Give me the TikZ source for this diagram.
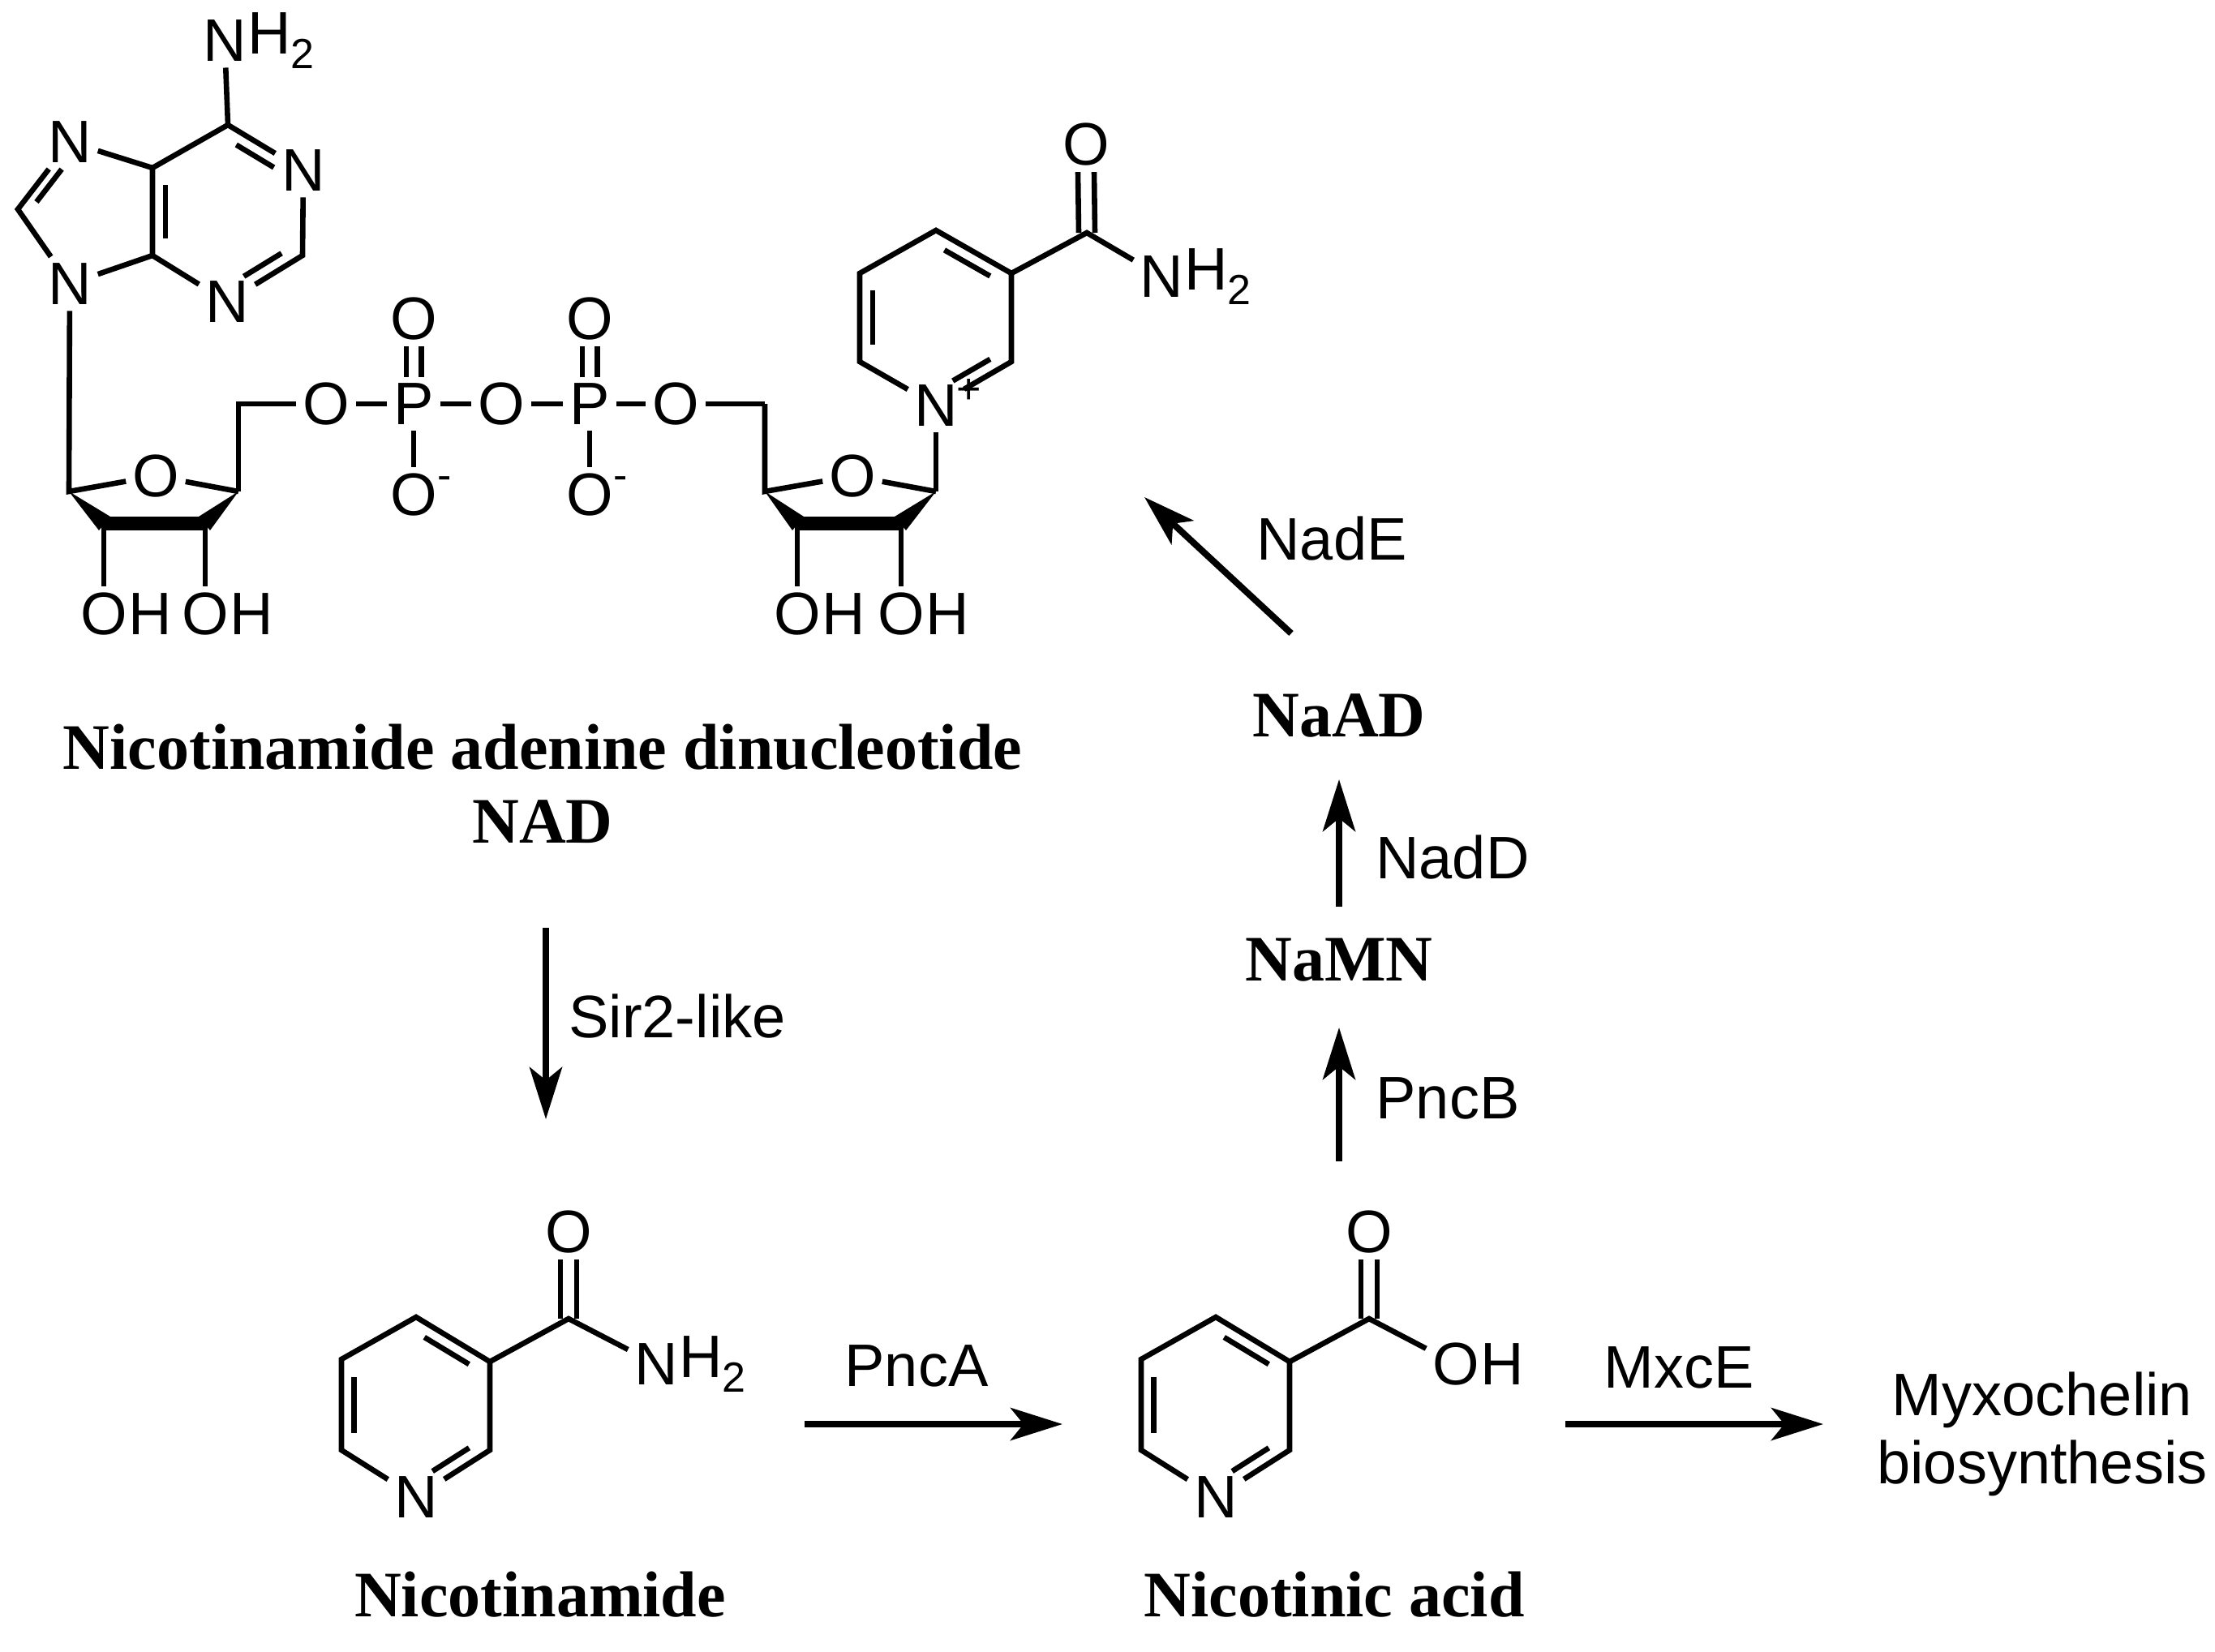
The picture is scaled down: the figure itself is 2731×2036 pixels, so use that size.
\documentclass[tikz,border=0pt]{standalone}
\usepackage{fontspec}
\setmainfont{Liberation Sans}
\newfontfamily\tnr{Liberation Serif}
\usetikzlibrary{calc,arrows.meta}
\begin{document}
\begin{tikzpicture}[x=0.25pt,y=-0.25pt,
  bond/.style={line width=1.65pt,line cap=butt},
  atm/.style={inner sep=1.8pt,font=\fontsize{18.5}{20}\selectfont},
  lab/.style={inner sep=0pt,font=\fontsize{18.5}{20}\selectfont},
  title/.style={inner sep=0pt,font=\tnr\bfseries\fontsize{20}{23}\selectfont,align=center},
  rxn/.style={line width=2pt,-{Stealth[length=16pt,width=10pt,inset=4pt]}}]
\newcommand\innerb[5]{\draw[bond,shorten <=#4pt,shorten >=#5pt] ($(#1)!0.17!(#3)$) -- ($(#2)!0.17!(#3)$);}
\newcommand\subtwo{\raisebox{-0.45ex}{\fontsize{13}{13}\selectfont 2}}
\useasboundingbox (0,0) rectangle (2731,2036);
\fill[white] (0,0) rectangle (2731,2036);
% ---------- Adenine
\coordinate (a6) at (281,154);
\node[atm] (an1) at (374,210) {N};
\coordinate (a2) at (373,315);
\node[atm] (an3) at (280,372) {N};
\coordinate (a4) at (188,315);
\coordinate (a5) at (188,207);
\node[atm] (an7) at (86,175) {N};
\coordinate (a8) at (22,258);
\node[atm] (an9) at (86,350) {N};
\node[atm] (anh) at (277,50) {N};
\node[lab,anchor=west] (anhh) at ([xshift=-1.8pt]anh.east) {H\subtwo};
\coordinate (ac6) at (281,262);
\coordinate (ac5) at (114,261);
\draw[bond] (a6) -- (an1) -- (a2) -- (an3) -- (a4) -- (a5) -- (a6);
\draw[bond] (a5) -- (an7) -- (a8) -- (an9) -- (a4);
\draw[bond] (a6) -- (anh);
\innerb{a6}{an1}{ac6}{3}{6}
\innerb{a2}{an3}{ac6}{3}{6}
\innerb{a5}{a4}{ac6}{3}{3}
\innerb{an7}{a8}{ac5}{6}{3}
% ---------- Ribose 1
\coordinate (r1) at (85,606);
\node[atm] (ro1) at (192,587) {O};
\coordinate (r4) at (294,606);
\coordinate (r2) at (128,645);
\coordinate (r3) at (253,645);
\draw[bond] (an9) -- (r1) -- (ro1) -- (r4);
\fill ($(r2)+(0,-8)$) rectangle ($(r3)+(0,9)$);
\fill (r1) -- ($(r2)+(8,-8)$) -- ($(r2)+(-6,9)$) -- cycle;
\fill (r4) -- ($(r3)+(-8,-8)$) -- ($(r3)+(6,9)$) -- cycle;
\node[atm] (roh2) at (128,757) {O};
\node[lab,anchor=west] at ([xshift=-1.8pt]roh2.east) {H};
\node[atm] (roh3) at (253,757) {O};
\node[lab,anchor=west] at ([xshift=-1.8pt]roh3.east) {H};
\draw[bond] (r2) -- (roh2);
\draw[bond] (r3) -- (roh3);
% ---------- Diphosphate
\coordinate (r5) at (294,498);
\node[atm] (po1) at (402,498) {O};
\node[atm] (pp1) at (510,498) {P};
\node[atm] (po2) at (618,498) {O};
\node[atm] (pp2) at (727,498) {P};
\node[atm] (po3) at (833,498) {O};
\coordinate (s5) at (943,498);
\node[atm] (pd1) at (510,393) {O};
\node[atm] (pd2) at (727,393) {O};
\node[atm] (pm1) at (510,610) {O};
\node[atm] (pm2) at (727,610) {O};
\foreach \m in {pm1,pm2} \node[lab,anchor=south west] at ([xshift=-2pt,yshift=-7pt]\m.north east) {\fontsize{13}{13}\selectfont -};
\draw[bond] (r4) -- (r5) -- (po1) -- (pp1) -- (po2) -- (pp2) -- (po3) -- (s5);
\draw[bond] (pp1) -- (pm1);
\draw[bond] (pp2) -- (pm2);
\foreach \p/\o in {pp1/pd1,pp2/pd2}{
  \draw[bond] ([xshift=-2.3pt]\p.north) -- ([xshift=-2.3pt]\o.south);
  \draw[bond] ([xshift=2.3pt]\p.north) -- ([xshift=2.3pt]\o.south);}
% ---------- Ribose 2
\coordinate (s4) at (943,606);
\node[atm] (so1) at (1051,587) {O};
\coordinate (s1) at (1154,606);
\coordinate (s3) at (983,645);
\coordinate (s2) at (1111,645);
\draw[bond] (s5) -- (s4) -- (so1) -- (s1);
\fill ($(s3)+(0,-8)$) rectangle ($(s2)+(0,9)$);
\fill (s4) -- ($(s3)+(8,-8)$) -- ($(s3)+(-6,9)$) -- cycle;
\fill (s1) -- ($(s2)+(-8,-8)$) -- ($(s2)+(6,9)$) -- cycle;
\node[atm] (soh3) at (983,757) {O};
\node[lab,anchor=west] at ([xshift=-1.8pt]soh3.east) {H};
\node[atm] (soh2) at (1111,757) {O};
\node[lab,anchor=west] at ([xshift=-1.8pt]soh2.east) {H};
\draw[bond] (s3) -- (soh3);
\draw[bond] (s2) -- (soh2);
% ---------- Nicotinamide ring (NAD)
\node[atm] (yn) at (1154,500) {N};
\node[lab,anchor=south west] at ([xshift=-2.5pt,yshift=-8pt]yn.north east) {\fontsize{13}{13}\selectfont +};
\coordinate (y2) at (1247,446);
\coordinate (y3) at (1247,337);
\coordinate (y4) at (1154,284);
\coordinate (y5) at (1060,337);
\coordinate (y6) at (1060,446);
\coordinate (yc) at (1154,392);
\coordinate (yk) at (1340,287);
\node[atm] (yo) at (1339,178) {O};
\node[atm] (ynh) at (1432,341) {N};
\node[lab,anchor=west] at ([xshift=-1.8pt]ynh.east) {H\subtwo};
\draw[bond] (yn) -- (y2) -- (y3) -- (y4) -- (y5) -- (y6) -- (yn);
\draw[bond] (s1) -- (yn);
\innerb{y5}{y6}{yc}{3}{3}
\innerb{y4}{y3}{yc}{3}{3}
\innerb{y2}{yn}{yc}{3}{6}
\draw[bond] (y3) -- (yk) -- (ynh);
\draw[bond] ([xshift=-2.5pt]yk) -- ([xshift=-2.5pt]yo.south);
\draw[bond] ([xshift=2.5pt]yk) -- ([xshift=2.5pt]yo.south);
% ---------- titles and right-hand arrows
\node[title] (nad) at (669,921) {Nicotinamide adenine dinucleotide};
\node[title] (nad2) at (669,1013) {NAD};
\node[title] (naad) at (1651,882) {NaAD};
\node[title] (namn) at (1651,1184) {NaMN};
\coordinate (ea) at (1592,781);
\coordinate (eb) at (1411,613);
\draw[rxn] (ea) -- (eb);
\node[lab] (le) at (1642,664) {NadE};
\coordinate (da) at (1651,1118);
\coordinate (db) at (1651,961);
\draw[rxn] (da) -- (db);
\node[lab] (ld) at (1791,1057) {NadD};
\coordinate (ba) at (1651,1432);
\coordinate (bb) at (1651,1267);
\draw[rxn] (ba) -- (bb);
\node[lab] (lb) at (1785,1354) {PncB};
\coordinate (sa) at (673,1144);
\coordinate (sb) at (673,1380);
\draw[rxn] (sa) -- (sb);
\node[lab] (ls) at (835,1253) {Sir2-like};
% ---------- Nicotinamide
\coordinate (m4) at (513,1624);
\coordinate (m3) at (604,1679);
\coordinate (m2) at (604,1788);
\node[atm] (mn) at (513,1846) {N};
\coordinate (m6) at (421,1788);
\coordinate (m5) at (421,1676);
\coordinate (mc) at (513,1734);
\coordinate (mk) at (701,1626);
\node[atm] (mo) at (701,1519) {O};
\node[atm] (mnh) at (809,1682) {N};
\node[lab,anchor=west] at ([xshift=-1.8pt]mnh.east) {H\subtwo};
\draw[bond] (mn) -- (m2) -- (m3) -- (m4) -- (m5) -- (m6) -- (mn);
\innerb{m4}{m3}{mc}{3}{3}
\innerb{m5}{m6}{mc}{3}{3}
\innerb{m2}{mn}{mc}{3}{6}
\draw[bond] (m3) -- (mk) -- (mnh);
\draw[bond] ([xshift=-2.5pt]mk) -- ([xshift=-2.5pt]mo.south);
\draw[bond] ([xshift=2.5pt]mk) -- ([xshift=2.5pt]mo.south);
\node[title] (tm) at (666,1966) {Nicotinamide};
% ---------- Nicotinic acid
\coordinate (k4) at (1499,1624);
\coordinate (k3) at (1590,1679);
\coordinate (k2) at (1590,1788);
\node[atm] (kn) at (1499,1846) {N};
\coordinate (k6) at (1407,1788);
\coordinate (k5) at (1407,1676);
\coordinate (kc) at (1499,1734);
\coordinate (kk) at (1688,1626);
\node[atm] (ko) at (1688,1519) {O};
\node[atm] (koh) at (1795,1682) {O};
\node[lab,anchor=west] at ([xshift=-1.8pt]koh.east) {H};
\draw[bond] (kn) -- (k2) -- (k3) -- (k4) -- (k5) -- (k6) -- (kn);
\innerb{k4}{k3}{kc}{3}{3}
\innerb{k5}{k6}{kc}{3}{3}
\innerb{k2}{kn}{kc}{3}{6}
\draw[bond] (k3) -- (kk) -- (koh);
\draw[bond] ([xshift=-2.5pt]kk) -- ([xshift=-2.5pt]ko.south);
\draw[bond] ([xshift=2.5pt]kk) -- ([xshift=2.5pt]ko.south);
\node[title] (tk) at (1645,1966) {Nicotinic acid};
% ---------- bottom arrows
\coordinate (pa) at (992,1756);
\coordinate (pb) at (1310,1756);
\draw[rxn] (pa) -- (pb);
\node[lab] (lp) at (1130,1684) {PncA};
\coordinate (xa) at (1930,1756);
\coordinate (xb) at (2248,1756);
\draw[rxn] (xa) -- (xb);
\node[lab] (lx) at (2070,1686) {MxcE};
\node[lab,align=center,font=\fontsize{18.5}{21}\selectfont] (myx) at (2518,1768) {Myxochelin\\biosynthesis};
\end{tikzpicture}
\end{document}
